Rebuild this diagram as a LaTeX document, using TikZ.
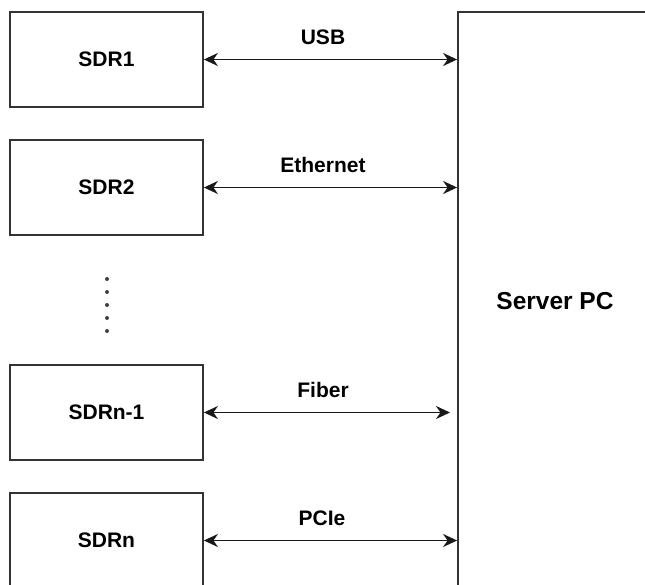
\documentclass[tikz,border=0pt]{standalone}
\usepackage{fontspec}
\setmainfont{Liberation Sans}
\usetikzlibrary{arrows.meta}
\begin{document}
\begin{tikzpicture}[x=1pt,y=-1pt,
  sdrbox/.style={draw=black!80, line width=1.8pt, fill=white, minimum width=193pt,
    minimum height=95pt, inner sep=0pt,
    font=\fontsize{21}{25}\selectfont\bfseries},
  link/.style={line width=1.8pt, black!90,
    {Stealth[length=14pt,width=13pt,inset=4.5pt]}-{Stealth[length=14pt,width=13pt,inset=4.5pt]}},
  linklabel/.style={font=\fontsize{21}{25}\selectfont\bfseries, inner sep=0pt}]
  \useasboundingbox (0,0) rectangle (645,584);
  \clip (0,0) rectangle (645,584);

  % server on the right, running past the page edges
  \node[draw=black!80, line width=1.8pt, minimum width=194pt, minimum height=578pt,
    inner sep=0pt, font=\fontsize{24.5}{29}\selectfont\bfseries] (srv) at (555,301) {Server PC};

  % radios on the left
  \node[sdrbox] (s1) at (106.5,59.5) {SDR1};
  \node[sdrbox] (s2) at (106.5,187.5) {SDR2};
  \node[sdrbox] (s3) at (106.5,412.5) {SDRn-1};
  \node[sdrbox] (s4) at (106.5,540.5) {SDRn};

  % vertical ellipsis between SDR2 and SDRn-1
  \foreach \k in {0,...,4}
    \fill[black!75] (107,279+13*\k) circle (2pt);

  % links
  \coordinate (fiberend) at (450,412.5);
  \draw[link] (s1.east) -- (s1.east -| srv.west);
  \draw[link] (s2.east) -- (s2.east -| srv.west);
  \draw[link] (s3.east) -- (fiberend);
  \draw[link] (s4.east) -- (s4.east -| srv.west);

  \node[linklabel] (l1) at (323,37) {USB};
  \node[linklabel] (l2) at (323,165) {Ethernet};
  \node[linklabel] (l3) at (323,390) {Fiber};
  \node[linklabel] (l4) at (322,518) {PCIe};
\end{tikzpicture}
\end{document}
